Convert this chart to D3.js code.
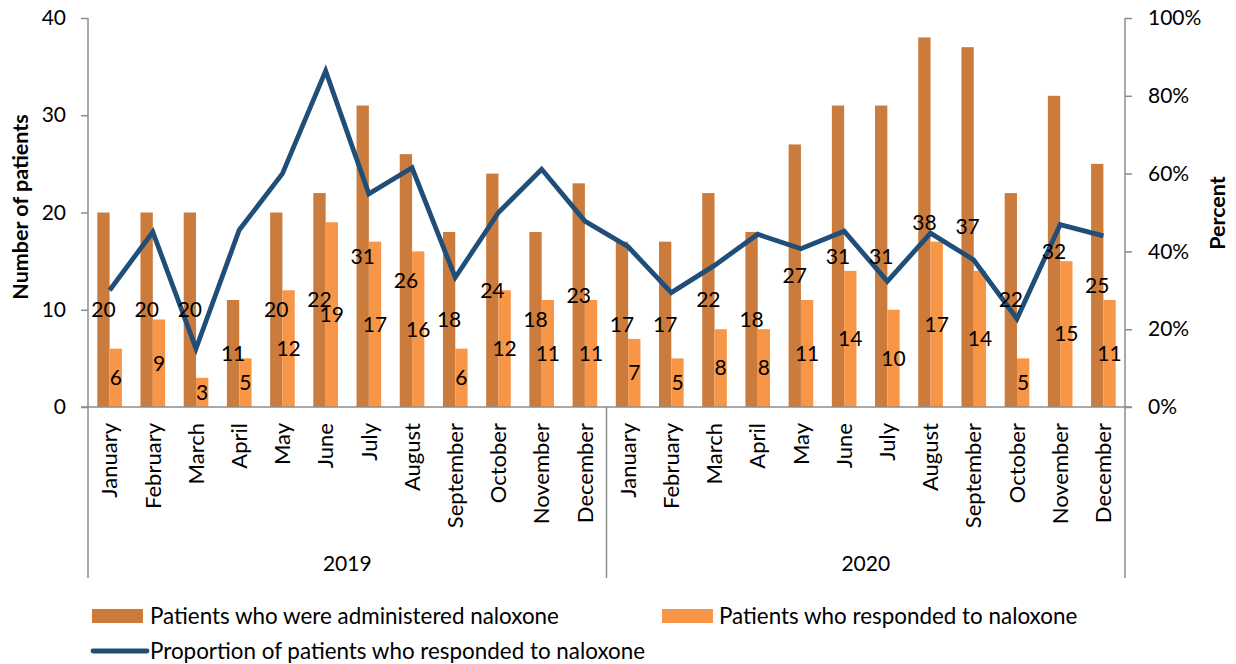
<!DOCTYPE html>
<html>
<head>
<meta charset="utf-8">
<script src="https://cdn.jsdelivr.net/npm/d3@7"></script>
<style>
  html, body { margin: 0; padding: 0; background: #fff; }
  svg { display: block; }
  text { font-family: Lato, "Open Sans", sans-serif; fill: #000; }
</style>
</head>
<body>
<svg id="chart" width="1236" height="664"></svg>
<script>
// Monthly naloxone data, 2019–2020
const years = ["2019", "2020"];
const months = ["January", "February", "March", "April", "May", "June",
  "July", "August", "September", "October", "November", "December"];
const administered = [20, 20, 20, 11, 20, 22, 31, 26, 18, 24, 18, 23,
                      17, 17, 22, 18, 27, 31, 31, 38, 37, 22, 32, 25];
const responded = [6, 9, 3, 5, 12, 19, 17, 16, 6, 12, 11, 11,
                   7, 5, 8, 8, 11, 14, 10, 17, 14, 5, 15, 11];
// Share of patients who responded (%)
const proportion = [30, 45, 15, 45.5, 60, 86.4, 54.8, 61.5, 33.3, 50, 61.1, 47.8,
                    41.2, 29.4, 36.4, 44.4, 40.7, 45.2, 32.3, 44.7, 37.8, 22.7, 46.9, 44];
const leftTicks = [0, 10, 20, 30, 40];
const rightTicks = [0, 20, 40, 60, 80, 100];

const categories = years.flatMap(y => months.map(m => y + "|" + m));

const svg = d3.select("#chart");
const plotLeft = 88, plotRight = 1125, plotTop = 18, base = 407, axisBottom = 578;
const darkColor = "#CB7B3B", lightColor = "#F79646", lineColor = "#1F4E79", axisColor = "#8C8C8C";
const numSize = 21, textSize = 22, legendSize = 22.4;

const x = d3.scaleBand().domain(categories).range([plotLeft, plotRight]).padding(0);
const yL = d3.scaleLinear().domain([0, 40]).range([base, plotTop]);
const yR = d3.scaleLinear().domain([0, 100]).range([base, plotTop]);
const barW = x.bandwidth() * 0.285;
const cx = c => x(c) + x.bandwidth() / 2;

// Bars
const g = svg.append("g");
g.selectAll("rect.adm").data(categories).join("rect")
  .attr("class", "adm")
  .attr("x", c => cx(c) - barW)
  .attr("width", barW)
  .attr("y", (c, i) => yL(administered[i]))
  .attr("height", (c, i) => base - yL(administered[i]))
  .attr("fill", darkColor);
g.selectAll("rect.resp").data(categories).join("rect")
  .attr("class", "resp")
  .attr("x", c => cx(c))
  .attr("width", barW)
  .attr("y", (c, i) => yL(responded[i]))
  .attr("height", (c, i) => base - yL(responded[i]))
  .attr("fill", lightColor);

// Axes
const leftAxis = d3.axisLeft(yL).tickValues(leftTicks).tickSize(7).tickPadding(15);
const rightAxis = d3.axisRight(yR).tickValues(rightTicks).tickSize(7).tickPadding(16)
  .tickFormat(d => d + "%");
function styleAxis(sel) {
  sel.select(".domain").remove();
  sel.selectAll("line").attr("stroke", axisColor).attr("stroke-width", 1.5);
  sel.selectAll("text").attr("font-size", numSize).attr("font-family", "Lato, sans-serif").attr("fill", "#000");
}
svg.append("g").attr("transform", `translate(${plotLeft},0)`).call(leftAxis).call(styleAxis);
svg.append("g").attr("transform", `translate(${plotRight},0)`).call(rightAxis).call(styleAxis);

// Axis lines and group separators
const lines = svg.append("g").attr("stroke", axisColor).attr("stroke-width", 1.5);
lines.append("line").attr("x1", plotLeft).attr("x2", plotLeft).attr("y1", plotTop).attr("y2", axisBottom);
lines.append("line").attr("x1", plotRight).attr("x2", plotRight).attr("y1", plotTop).attr("y2", axisBottom);
lines.append("line").attr("x1", plotLeft - 7).attr("x2", plotRight + 7).attr("y1", base).attr("y2", base);
const sepX = x(categories[12]);
lines.append("line").attr("x1", sepX).attr("x2", sepX).attr("y1", base).attr("y2", axisBottom);

// Month labels
svg.append("g").selectAll("text").data(categories).join("text")
  .attr("transform", c => `translate(${cx(c)},${base + 16}) rotate(-90)`)
  .attr("text-anchor", "end")
  .attr("dy", "0.35em")
  .attr("font-size", textSize)
  .text(c => c.split("|")[1]);

// Year labels
svg.append("g").selectAll("text").data(years).join("text")
  .attr("x", (y, i) => (x(categories[i * 12]) + x(categories[i * 12 + 11]) + x.bandwidth()) / 2)
  .attr("y", 564)
  .attr("dy", "0.35em")
  .attr("text-anchor", "middle")
  .attr("font-size", numSize)
  .text(y => y);

// Proportion line
const line = d3.line().x(d => cx(d.c)).y(d => yR(d.v));
svg.append("path")
  .datum(categories.map((c, i) => ({ c, v: proportion[i] })))
  .attr("d", line)
  .attr("fill", "none")
  .attr("stroke", lineColor)
  .attr("stroke-width", 4.8)
  .attr("stroke-linejoin", "miter");

// Data labels
const labels = svg.append("g").attr("font-size", numSize).attr("text-anchor", "middle");
labels.selectAll("text.adm").data(categories).join("text")
  .attr("class", "adm")
  .attr("x", c => cx(c) - barW / 2)
  .attr("y", (c, i) => yL(administered[i] / 2))
  .attr("dy", "0.35em")
  .text((c, i) => administered[i]);
labels.selectAll("text.resp").data(categories).join("text")
  .attr("class", "resp")
  .attr("x", c => cx(c) + barW / 2)
  .attr("y", (c, i) => yL(responded[i] / 2))
  .attr("dy", "0.35em")
  .text((c, i) => responded[i]);

// Axis titles
svg.append("text")
  .attr("transform", `translate(20,207) rotate(-90)`)
  .attr("text-anchor", "middle").attr("dy", "0.35em")
  .attr("font-size", 21.5).attr("font-weight", "bold")
  .text("Number of patients");
svg.append("text")
  .attr("transform", `translate(1217,213) rotate(-90)`)
  .attr("text-anchor", "middle").attr("dy", "0.35em")
  .attr("font-size", 21.5).attr("font-weight", "bold")
  .text("Percent");

// Legend
const legend = svg.append("g").attr("font-size", legendSize);
legend.append("rect").attr("x", 92).attr("y", 609).attr("width", 51).attr("height", 14).attr("fill", darkColor);
legend.append("text").attr("x", 150).attr("y", 616).attr("dy", "0.35em").text("Patients who were administered naloxone");
legend.append("rect").attr("x", 662).attr("y", 609).attr("width", 51).attr("height", 14).attr("fill", lightColor);
legend.append("text").attr("x", 719).attr("y", 616).attr("dy", "0.35em").text("Patients who responded to naloxone");
legend.append("line").attr("x1", 93).attr("x2", 147).attr("y1", 651).attr("y2", 651)
  .attr("stroke", lineColor).attr("stroke-width", 4.8).attr("stroke-linecap", "round");
legend.append("text").attr("x", 150).attr("y", 651).attr("dy", "0.35em").text("Proportion of patients who responded to naloxone");
</script>
</body>
</html>
